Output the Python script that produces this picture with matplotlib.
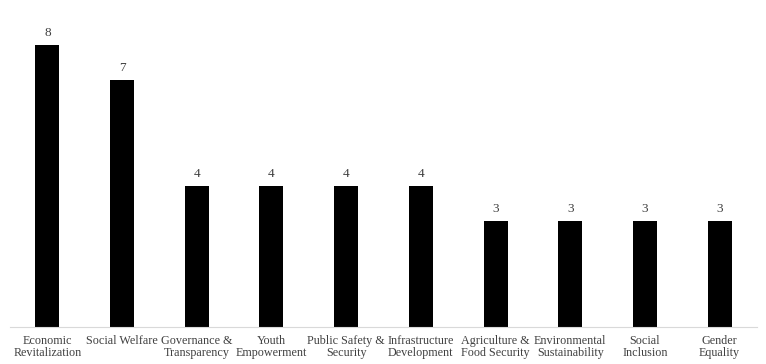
import numpy as np
import matplotlib.pyplot as plt

# categories and counts
categories = ['Economic\nRevitalization', 'Social Welfare', 'Governance &\nTransparency',
              'Youth\nEmpowerment', 'Public Safety &\nSecurity', 'Infrastructure\nDevelopment',
              'Agriculture &\nFood Security', 'Environmental\nSustainability',
              'Social\nInclusion', 'Gender\nEquality']
counts = [8, 7, 4, 4, 4, 4, 3, 3, 3, 3]

plt.rcParams['font.family'] = ['Liberation Serif', 'DejaVu Serif']

fig = plt.figure(figsize=(7.66, 3.64), dpi=100)
ax = fig.add_axes([10/766, 37/364, 747/766, 317/364])

x = np.arange(len(categories))
bars = ax.bar(x, counts, width=0.32, color='black')

#value labels above bars
for b, v in zip(bars, counts):
    ax.text(b.get_x() + b.get_width()/2, v + 0.18, str(v), ha='center', va='bottom',
            fontsize=9.5, color='#404040')

ax.set_xlim(-0.5, 9.5)
ax.set_ylim(0, 9)
ax.set_xticks(x)
ax.set_xticklabels(categories, fontsize=8.7, color='#404040', linespacing=1.0)
ax.tick_params(axis='x', length=0, pad=5.5)
ax.set_yticks([])
for s in ['top', 'right', 'left']:
    ax.spines[s].set_visible(False)
ax.spines['bottom'].set_color('#d9d9d9')

fig.savefig('out.png', dpi=100)
